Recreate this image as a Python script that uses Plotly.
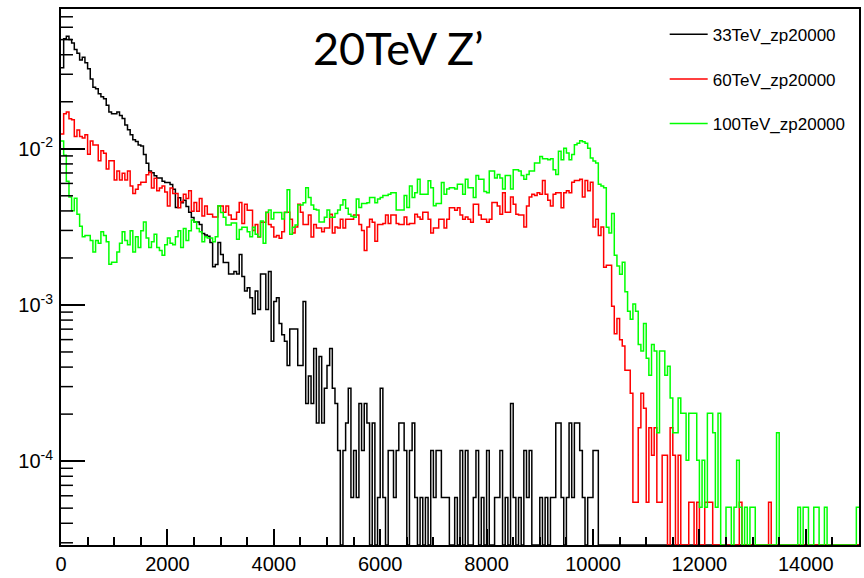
import plotly.graph_objects as go

# ---------------- data ----------------
BIN_WIDTH = 50  # GeV per bin, 300 bins from 0 to 15000

# raw bin contents (events); each histogram is normalised to unit area
counts_33 = [
    564, 865, 897, 855, 812, 740, 700, 632, 658, 607,
    556, 479, 424, 414, 385, 368, 357, 325, 294, 287,
    287, 294, 279, 267, 243, 226, 210, 195, 190, 181,
    178, 157, 138, 123, 120, 115, 111, 111, 106, 104,
    104, 101, 94, 72, 83, 77, 80, 73, 67, 62,
    58, 58, 56, 49, 48, 47, 43, 30, 31, 43,
    36, 32, 32, 27, 27, 28, 27, 36, 26, 21,
    22, 19, 15, 21, 16, 27, 27, 16, 28, 10,
    18, 19, 13, 11, 10, 7, 12, 12, 12, 7,
    7, 18, 4, 6, 4, 9, 3, 8, 3, 5,
    7, 9, 5, 4, 2, 0, 2, 3, 5, 1,
    2, 1, 4, 2, 4, 3, 0, 3, 0, 1,
    5, 1, 0, 2, 2, 1, 2, 3, 3, 2,
    0, 2, 3, 1, 0, 1, 0, 1, 0, 2,
    1, 2, 2, 1, 1, 1, 0, 0, 1, 0,
    2, 0, 2, 0, 0, 1, 2, 0, 1, 0,
    2, 0, 0, 1, 1, 2, 0, 1, 0, 4,
    1, 0, 1, 0, 2, 1, 2, 0, 0, 0,
    1, 0, 1, 0, 1, 1, 3, 3, 1, 0,
    1, 3, 1, 3, 3, 2, 1, 0, 1, 1,
    2, 2, 0, 0, 0, 0, 0, 0, 0, 0,
    0, 0, 0, 0, 0, 0, 0, 0, 0, 0,
    0, 0, 0, 0, 0, 0, 0, 0, 0, 0,
    0, 0, 0, 0, 0, 0, 0, 0, 0, 0,
    0, 0, 0, 0, 0, 0, 0, 0, 0, 0,
    0, 0, 0, 0, 0, 0, 0, 0, 0, 0,
    0, 0, 0, 0, 0, 0, 0, 0, 0, 0,
    0, 0, 0, 0, 0, 0, 0, 0, 0, 0,
    0, 0, 0, 0, 0, 0, 0, 0, 0, 0,
    0, 0, 0, 0, 0, 0, 0, 0, 0, 0,
]

counts_60 = [
    228, 308, 316, 286, 281, 220, 242, 220, 215, 226,
    169, 206, 194, 194, 154, 178, 172, 136, 154, 154,
    116, 132, 116, 128, 116, 132, 106, 95, 101, 108,
    112, 112, 125, 130, 103, 119, 99, 103, 106, 97,
    79, 103, 95, 95, 77, 84, 94, 88, 99, 73,
    83, 73, 88, 68, 79, 70, 70, 67, 67, 79,
    79, 72, 79, 69, 65, 65, 72, 83, 61, 81,
    74, 74, 55, 60, 50, 62, 62, 72, 60, 58,
    50, 51, 49, 54, 72, 72, 65, 53, 58, 81,
    72, 60, 60, 69, 50, 60, 57, 57, 54, 57,
    57, 70, 53, 58, 57, 65, 57, 65, 65, 65,
    69, 69, 60, 55, 41, 58, 65, 62, 47, 60,
    60, 61, 69, 61, 69, 69, 61, 60, 60, 67,
    60, 61, 61, 70, 67, 65, 72, 72, 65, 53,
    57, 57, 65, 65, 57, 65, 77, 77, 74, 77,
    69, 65, 67, 65, 62, 81, 81, 69, 65, 65,
    62, 65, 83, 83, 79, 70, 96, 72, 72, 90,
    81, 70, 69, 69, 58, 79, 90, 94, 92, 96,
    94, 115, 94, 86, 79, 94, 96, 96, 77, 96,
    99, 96, 112, 115, 115, 117, 90, 115, 99, 112,
    58, 65, 51, 58, 32, 33, 33, 18, 12, 15,
    11, 10, 7, 7, 5, 1, 1, 3, 5, 4,
    1, 3, 2, 3, 1, 1, 2, 2, 0, 3,
    2, 0, 2, 0, 0, 0, 1, 1, 0, 1,
    0, 0, 1, 1, 1, 0, 0, 0, 0, 0,
    0, 0, 0, 0, 0, 1, 0, 0, 0, 0,
    0, 0, 0, 0, 0, 0, 1, 0, 0, 0,
    0, 0, 0, 0, 0, 0, 0, 0, 0, 0,
    0, 0, 0, 0, 0, 0, 0, 0, 0, 0,
    0, 0, 0, 0, 0, 0, 0, 0, 0, 0,
]

counts_100 = [
    221, 179, 122, 97, 79, 95, 75, 63, 54, 55,
    55, 51, 43, 51, 49, 58, 55, 50, 36, 37,
    37, 43, 49, 58, 51, 48, 59, 43, 54, 46,
    59, 67, 53, 46, 50, 56, 46, 44, 41, 48,
    53, 49, 48, 54, 59, 46, 61, 51, 59, 69,
    67, 61, 58, 50, 54, 53, 53, 50, 54, 85,
    77, 72, 64, 64, 66, 66, 52, 60, 62, 62,
    58, 54, 62, 56, 54, 68, 49, 77, 80, 70,
    77, 77, 77, 70, 77, 108, 56, 62, 64, 86,
    86, 89, 111, 96, 86, 81, 80, 67, 67, 72,
    80, 72, 72, 76, 80, 86, 93, 82, 75, 73,
    72, 94, 83, 88, 88, 89, 96, 96, 89, 94,
    96, 99, 99, 101, 103, 103, 80, 80, 80, 99,
    83, 114, 96, 103, 126, 101, 101, 101, 123, 111,
    85, 88, 88, 120, 101, 109, 111, 111, 109, 117,
    117, 101, 126, 111, 111, 96, 133, 126, 126, 105,
    103, 142, 142, 128, 135, 128, 109, 133, 133, 109,
    145, 145, 142, 133, 126, 135, 142, 142, 160, 160,
    176, 170, 170, 168, 170, 145, 135, 190, 168, 199,
    185, 168, 181, 209, 214, 222, 219, 214, 199, 172,
    165, 160, 117, 114, 111, 62, 57, 76, 41, 35,
    31, 37, 24, 18, 16, 20, 18, 11, 10, 15,
    9, 7, 11, 10, 3, 10, 10, 7, 8, 5,
    3, 3, 5, 4, 4, 2, 4, 4, 4, 2,
    1, 2, 1, 4, 4, 3, 1, 4, 0, 0,
    1, 1, 0, 1, 2, 1, 0, 1, 0, 1,
    1, 0, 0, 0, 0, 0, 0, 0, 0, 3,
    0, 0, 0, 0, 0, 0, 0, 1, 0, 1,
    1, 0, 0, 1, 1, 0, 0, 1, 0, 0,
    0, 0, 0, 0, 0, 0, 0, 0, 0, 1,
]

# per-event weight (1 / number of events) for each sample
weight_33 = 5.85e-5
weight_60 = 5.45e-5
weight_100 = 5.07e-5

names = ["33TeV_zp20000", "60TeV_zp20000", "100TeV_zp20000"]
title_text = "20TeV Z\u2019"
y_tick_vals = [1e-4, 1e-3, 1e-2]
y_tick_text = ["10<sup>-4</sup>", "10<sup>-3</sup>", "10<sup>-2</sup>"]

# ---------------- figure ----------------
X_LO, X_HI = 0, 15000
Y_LO, Y_HI = -4.537, -1.105   # log10 axis range
PLOT_W_PX = 800               # plot-area width in px (864 - margins)
floor_val = 10 ** Y_LO         # empty bins are drawn on the frame bottom (ROOT style)


def step_xy(counts, weight):
    vals = [c * weight for c in counts]
    vals = [v if v > 0 else floor_val for v in vals]
    edges = [i * BIN_WIDTH for i in range(len(vals) + 1)]
    return edges, vals + [vals[-1]]


fig = go.Figure()
series = [(counts_33, weight_33, "#000000"),
          (counts_60, weight_60, "#ff0000"),
          (counts_100, weight_100, "#00ff00")]
for (cnt, w, col), nm in zip(series, names):
    x, y = step_xy(cnt, w)
    fig.add_trace(go.Scatter(
        x=x, y=y, mode="lines", name=nm, legendgroup=nm,
        line=dict(color=col, width=1.5, shape="hv"),
    ))

# ROOT-style minor ticks on the log y axis (2..9 x each decade), drawn inside the frame
minor_len = 12 * (X_HI - X_LO) / PLOT_W_PX
tx, ty = [], []
for dec in range(-5, 0):
    for k in range(2, 10):
        v = k * 10.0 ** dec
        if 10 ** Y_LO < v < 10 ** Y_HI:
            tx += [X_LO, X_LO + minor_len, None]
            ty += [v, v, None]
fig.add_trace(go.Scatter(x=tx, y=ty, mode="lines", showlegend=False,
                         hoverinfo="skip", line=dict(color="black", width=1.5)))

axis_font = dict(family="Liberation Sans, Arial, sans-serif", size=20, color="black")

fig.update_layout(
    width=864, height=578,
    margin=dict(l=61, r=3, t=9, b=26, pad=0),
    paper_bgcolor="white", plot_bgcolor="white",
    showlegend=True,
    legend=dict(
        x=0.7565, y=0.9855, xanchor="left", yanchor="top",
        font=dict(family="Liberation Sans, Arial, sans-serif", size=17, color="black"),
        bgcolor="rgba(0,0,0,0)", borderwidth=0,
        tracegroupgap=19.5, itemwidth=38,
    ),
    xaxis=dict(
        range=[X_LO, X_HI], tick0=0, dtick=2000, tickformat="d",
        ticks="inside", ticklen=16, tickwidth=1.5, tickcolor="black",
        minor=dict(dtick=500, ticks="inside", ticklen=8, tickwidth=1.5,
                   tickcolor="black", showgrid=False),
        showline=True, linewidth=2, linecolor="black", mirror=True,
        showgrid=False, zeroline=False, tickfont=axis_font,
    ),
    yaxis=dict(
        type="log", range=[Y_LO, Y_HI],
        tickvals=y_tick_vals, ticktext=y_tick_text,
        ticks="inside", ticklen=24, tickwidth=1.5, tickcolor="black",
        showline=True, linewidth=2, linecolor="black", mirror=True,
        showgrid=False, zeroline=False, tickfont=axis_font,
        ticklabelstandoff=2,
    ),
    annotations=[dict(
        text=title_text, x=0.4225, y=0.928, xref="paper", yref="paper",
        xanchor="center", yanchor="middle", showarrow=False,
        font=dict(family="Lato, Carlito, sans-serif", size=45, color="black"),
    )],
)

fig.write_html("out.html")
